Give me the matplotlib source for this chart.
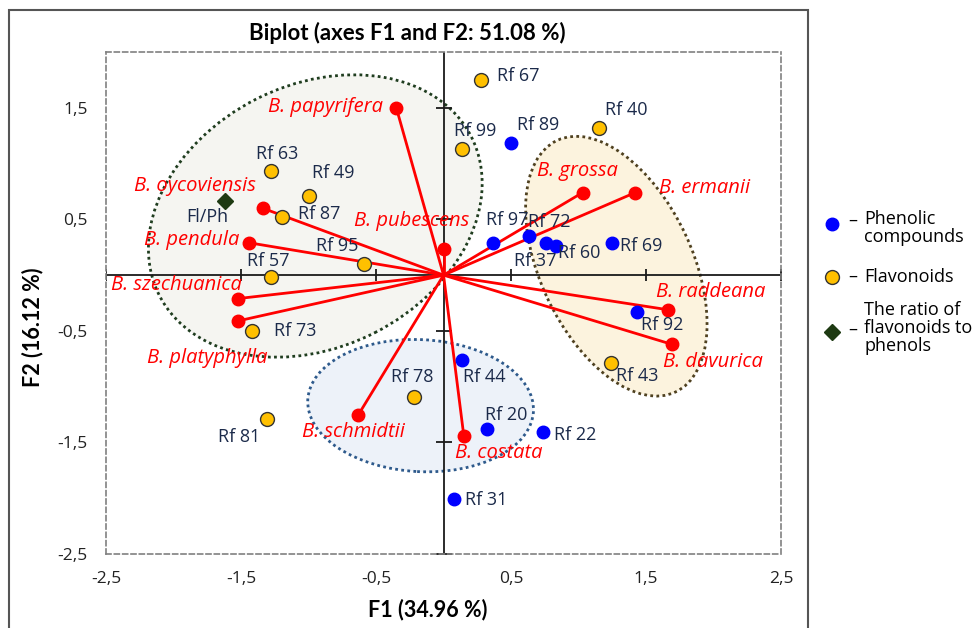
import matplotlib
matplotlib.use("Agg")
import numpy as np
import matplotlib.pyplot as plt
from matplotlib.patches import Ellipse, Rectangle
from matplotlib.lines import Line2D
import matplotlib.transforms as mtransforms

# Phenolic compounds (blue)
phen_names = ['Rf 89', 'Rf 97', 'Rf 72', 'Rf 37', 'Rf 60', 'Rf 69', 'Rf 92', 'Rf 44', 'Rf 20', 'Rf 22', 'Rf 31']
phen_x = [0.50, 0.37, 0.63, 0.76, 0.83, 1.25, 1.43, 0.14, 0.32, 0.74, 0.08]
phen_y = [1.18, 0.29, 0.35, 0.29, 0.26, 0.29, -0.33, -0.76, -1.38, -1.41, -2.01]

# Flavonoids (yellow)
flav_names = ['Rf 67', 'Rf 99', 'Rf 40', 'Rf 63', 'Rf 49', 'Rf 87', 'Rf 95', 'Rf 57', 'Rf 73', 'Rf 78', 'Rf 81', 'Rf 43']
flav_x = [0.28, 0.14, 1.15, -1.28, -1.00, -1.20, -0.59, -1.28, -1.42, -0.22, -1.31, 1.24]
flav_y = [1.75, 1.13, 1.32, 0.93, 0.71, 0.52, 0.10, -0.02, -0.50, -1.09, -1.29, -0.79]

# ratio flavonoids / phenols
ratio_name = 'Fl/Ph'
ratio_x = -1.62
ratio_y = 0.66

# species vectors
species = ['B. papyrifera', 'B. oycoviensis', 'B. pendula', 'B. pubescens', 'B. szechuanica',
           'B. platyphylla', 'B. schmidtii', 'B. costata', 'B. grossa', 'B. ermanii',
           'B. raddeana', 'B. davurica']
sp_x = [-0.35, -1.34, -1.44, 0.00, -1.52, -1.52, -0.63, 0.15, 1.03, 1.42, 1.66, 1.69]
sp_y = [1.50, 0.60, 0.29, 0.23, -0.21, -0.41, -1.25, -1.44, 0.74, 0.74, -0.31, -0.62]

tick_vals = [-2.5, -1.5, -0.5, 0.5, 1.5, 2.5]
ytick_vals = [-2.5, -1.5, -0.5, 0.5, 1.5]

# label offsets in pixels (dx, dy)
phen_off = [(27, 18), (14, 23), (21, 14), (-11, -18), (24, -7), (29, -3), (26, -13),
            (22, -17), (19, 14), (32, -3), (32, -1)]
flav_off = [(37, 4), (13, 18), (27, 18), (6, 17), (25, 23), (38, 3), (-27, 18), (-2, 16),
            (43, 0), (-2, 20), (-28, -18), (26, -13)]
sp_off = [(-71, 1), (-68, 22), (-57, 3), (-32, 28), (-62, 14), (-31, -37), (-5, -17),
          (35, -17), (-5, 22), (69, 5), (43, 18), (41, -18)]

navy = '#1b2a4a'
red = '#ff0000'
base_font = 'Open Sans'

fig = plt.figure(figsize=(9.8, 6.28), dpi=100)
ax = fig.add_axes([0.1082, 0.1178, 0.6888, 0.7994])
ax.set_xlim(-2.5, 2.5)
ax.set_ylim(-2.5, 2.0)

for s in ax.spines.values():
    s.set_linestyle((0, (3, 2)))
    s.set_color('#808080')
    s.set_linewidth(1.2)

ax.set_xticks(tick_vals)
ax.set_xticklabels([f'{v:.1f}'.replace('.', ',') for v in tick_vals])
ax.set_yticks(ytick_vals)
ax.set_yticklabels([f'{v:.1f}'.replace('.', ',') for v in ytick_vals])
ax.tick_params(length=0, labelsize=12.5, labelcolor='#222222')
ax.tick_params(axis='x', pad=12)
ax.tick_params(axis='y', pad=13)
for lab in ax.get_xticklabels() + ax.get_yticklabels():
    lab.set_family(base_font)

# ellipses (drawn in pixel units around a data centre)
def add_ellipse(cx, cy, a_px, b_px, angle, face, edge):
    tr = fig.dpi_scale_trans + mtransforms.ScaledTranslation(cx, cy, ax.transData)
    e = Ellipse((0, 0), 2 * a_px / 100, 2 * b_px / 100, angle=angle, transform=tr,
                facecolor=face, edgecolor=edge, linestyle=(0, (1, 1.2)), linewidth=2.0, zorder=1)
    ax.add_patch(e)

add_ellipse(-0.95, 0.53, 175, 131, 27, '#f5f5f1', '#1f3d1f')
add_ellipse(1.28, 0.08, 139, 76, -64.8, '#fcf3de', '#4f4120')
add_ellipse(-0.17, -1.17, 113, 66, -3, '#edf2f9', '#2e5a8c')

# zero axes with ticks
ax.axhline(0, color='#1a1a1a', lw=1.3, zorder=2)
ax.axvline(0, color='#1a1a1a', lw=1.3, zorder=2)
ax.plot(tick_vals, [0] * len(tick_vals), ls='none', marker='|', ms=9, mew=1.3, color='#1a1a1a', zorder=2)
ax.plot([0] * len(ytick_vals), ytick_vals, ls='none', marker='_', ms=12, mew=1.3, color='#1a1a1a', zorder=2)

# species vectors
for x, y in zip(sp_x, sp_y):
    ax.plot([0, x], [0, y], color=red, lw=2.0, zorder=3, solid_capstyle='round')
ax.plot(sp_x, sp_y, ls='none', marker='o', ms=9, color=red, mec=red, zorder=4)

# points
ax.plot(phen_x, phen_y, ls='none', marker='o', ms=9, color='#0000ff', mec='#0000ff', zorder=5)
ax.plot(flav_x, flav_y, ls='none', marker='o', ms=10, color='#ffc000', mec='#333333', mew=1.0, zorder=5)
ax.plot([ratio_x], [ratio_y], ls='none', marker='D', ms=8.5, color='#1e3a12', mec='#1e3a12', zorder=5)

for n, x, y, (dx, dy) in zip(phen_names, phen_x, phen_y, phen_off):
    ax.annotate(n, (x, y), xytext=(dx, dy), textcoords='offset pixels', ha='center', va='center',
                fontsize=13, color=navy, family=base_font, zorder=6)
for n, x, y, (dx, dy) in zip(flav_names, flav_x, flav_y, flav_off):
    ax.annotate(n, (x, y), xytext=(dx, dy), textcoords='offset pixels', ha='center', va='center',
                fontsize=13, color=navy, family=base_font, zorder=6)
ax.annotate(ratio_name, (ratio_x, ratio_y), xytext=(-18, -16), textcoords='offset pixels',
            ha='center', va='center', fontsize=13, color=navy, family=base_font, zorder=6)
for n, x, y, (dx, dy) in zip(species, sp_x, sp_y, sp_off):
    ax.annotate(n, (x, y), xytext=(dx, dy), textcoords='offset pixels', ha='center', va='center',
                fontsize=14.5, color=red, style='italic', family=base_font, zorder=6)

# titles
fig.text(0.416, 0.947, 'Biplot (axes F1 and F2: 51.08 %)', ha='center', va='center',
         fontsize=16, fontweight='bold', family='Lato')
fig.text(0.436, 0.029, 'F1 (34.96 %)', ha='center', va='center',
         fontsize=15.5, fontweight='bold', family='Lato')
fig.text(0.033, 0.479, 'F2 (16.12 %)', ha='center', va='center', rotation=90,
         fontsize=15.5, fontweight='bold', family='Lato')

# outer frame
fig.add_artist(Rectangle((9 / 980, -0.05), 799 / 980, 1.05 - 10 / 628, transform=fig.transFigure,
                         fill=False, edgecolor='#555555', lw=1.5))

# legend outside the frame
def fy(py):
    return 1 - py / 628

mx = 832 / 980
fig.add_artist(Line2D([mx], [fy(224)], marker='o', ms=9, color='#0000ff', mec='#0000ff',
                      ls='none', transform=fig.transFigure))
fig.add_artist(Line2D([mx], [fy(277)], marker='o', ms=10, color='#ffc000', mec='#333333',
                      ls='none', transform=fig.transFigure))
fig.add_artist(Line2D([mx], [fy(332)], marker='D', ms=8.5, color='#1e3a12', mec='#1e3a12',
                      ls='none', transform=fig.transFigure))
tx = 864 / 980
dxl = 848 / 980
fig.text(dxl, fy(221), '–', ha='left', va='center', fontsize=13, family=base_font)
fig.text(tx, fy(228), 'Phenolic\ncompounds', ha='left', va='center', fontsize=13,
         family=base_font, linespacing=1.0)
fig.text(dxl, fy(277), '–', ha='left', va='center', fontsize=13, family=base_font)
fig.text(tx, fy(277), 'Flavonoids', ha='left', va='center', fontsize=13, family=base_font)
fig.text(dxl, fy(330), '–', ha='left', va='center', fontsize=13, family=base_font)
fig.text(tx, fy(328), 'The ratio of\nflavonoids to\nphenols', ha='left', va='center',
         fontsize=13, family=base_font, linespacing=1.0)

fig.savefig('out.png', dpi=100, facecolor='white')
